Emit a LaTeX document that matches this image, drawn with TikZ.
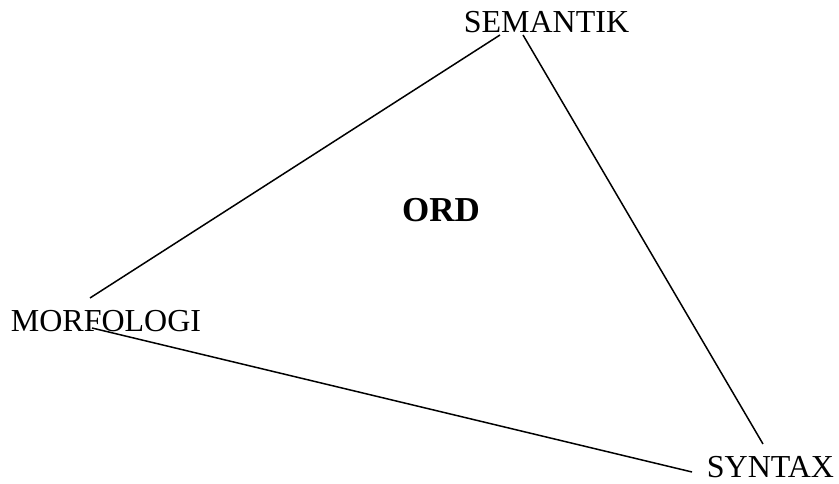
\documentclass[tikz,border=0pt]{standalone}
\usepackage{fontspec}
\setmainfont{Liberation Serif}
\usepackage{tikz}
\usetikzlibrary{positioning}

\begin{document}
\begin{tikzpicture}[x=1pt, y=1pt]
    \useasboundingbox (0,0) rectangle (839,484);
    \tikzset{term/.style={inner sep=0pt, anchor=base, font=\fontsize{32}{38}\selectfont},
             edge/.style={line width=1.5pt}}
    \node[term] (sem) at (546.5, 451) {SEMANTIK};
    \node[term] (mor) at (106, 152) {MORFOLOGI};
    \node[term] (syn) at (770.5, 6) {SYNTAX};
    \node[term, font=\fontsize{35}{40}\selectfont\bfseries] (ord) at (441, 262) {ORD};
    \draw[edge] ([xshift=-46.5pt, yshift=-2pt]sem.base) -- ([xshift=-16pt, yshift=34pt]mor.base);
    \draw[edge] ([xshift=-23.5pt, yshift=-2pt]sem.base) -- ([xshift=-7.5pt, yshift=34pt]syn.base);
    \draw[edge] ([xshift=-14pt, yshift=4pt]mor.base) -- ([xshift=-78.5pt, yshift=6pt]syn.base);
\end{tikzpicture}
\end{document}
